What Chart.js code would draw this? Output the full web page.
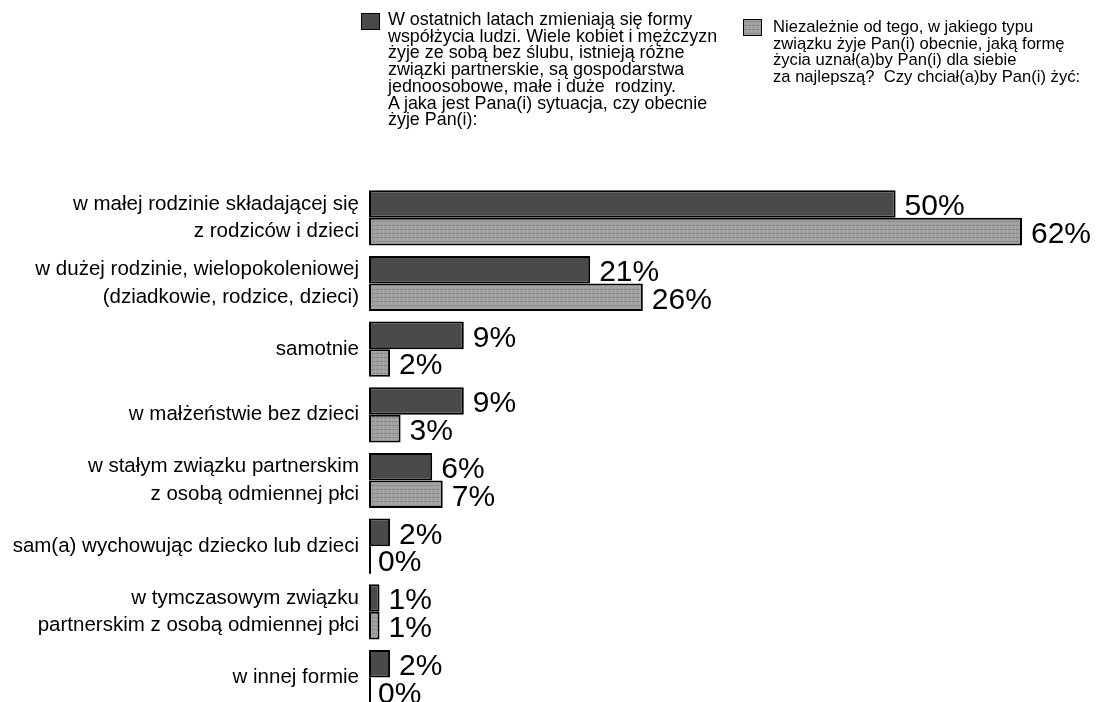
<!DOCTYPE html>
<html>
<head>
<meta charset="utf-8">
<script src="https://cdn.jsdelivr.net/npm/chart.js@4"></script>
<style>
  body { margin: 0; background: #fff; overflow: hidden; font-family: "Liberation Sans", Arial, sans-serif; }
  #wrap { position: relative; width: 1100px; height: 748px; }
  .leg { position: absolute; line-height: 16.7px; color: #000; white-space: pre; }
  .box { position: absolute; width: 17px; height: 15px; border: 1px solid #000; }
</style>
</head>
<body>
<div id="wrap">
  <canvas id="chart" width="1100" height="748"></canvas>
  <div class="box" id="box1" style="left:361px;top:13px;background:#4a4a4a;"></div>
  <div class="leg" id="leg1" style="left:388px;top:11px;font-size:17.9px;"></div>
  <div class="box" id="box2" style="left:743px;top:19px;"></div>
  <div class="leg" id="leg2" style="left:773px;top:19px;font-size:16.6px;"></div>
</div>
<script>
// DATA
const categories = [
	["w małej rodzinie składającej się", "z rodziców i dzieci"],
	["w dużej rodzinie, wielopokoleniowej", "(dziadkowie, rodzice, dzieci)"],
	"samotnie",
	"w małżeństwie bez dzieci",
	["w stałym związku partnerskim", "z osobą odmiennej płci"],
	"sam(a) wychowując dziecko lub dzieci",
	["w tymczasowym związku", "partnerskim z osobą odmiennej płci"],
	"w innej formie"
];
const current_values = [50, 21, 9, 9, 6, 2, 1, 2];
const preferred_values = [62, 26, 2, 3, 7, 0, 1, 0];

const legend_current = "W ostatnich latach zmieniają się formy\nwspółżycia ludzi. Wiele kobiet i mężczyzn\nżyje ze sobą bez ślubu, istnieją różne\nzwiązki partnerskie, są gospodarstwa\njednoosobowe, małe i duże  rodziny.\nA jaka jest Pana(i) sytuacja, czy obecnie\nżyje Pan(i):";
const legend_preferred = "Niezależnie od tego, w jakiego typu\nzwiązku żyje Pan(i) obecnie, jaką formę\nżycia uznał(a)by Pan(i) dla siebie\nza najlepszą?  Czy chciał(a)by Pan(i) żyć:";

document.getElementById("leg1").textContent = legend_current;
document.getElementById("leg2").textContent = legend_preferred;

// DOTTED PATTERN FOR SECOND SERIES
function patternCanvas(){
	const c = document.createElement("canvas");
	c.width = 4; c.height = 4;
	const p = c.getContext("2d");
	p.fillStyle = "#a3a3a3";
	p.fillRect(0, 0, 4, 4);
	p.fillStyle = "#858585";
	p.fillRect(0, 1, 3, 1);
	return c;
}
const pat = patternCanvas();
const dotted = document.createElement("canvas").getContext("2d").createPattern(pat, "repeat");
document.getElementById("box2").style.background = "url(" + pat.toDataURL() + ")";

// VALUE LABELS + ZERO BAR LINES
const valueLabels = {
	id: "valueLabels",
	afterDatasetsDraw(chart){
		const ctx = chart.ctx;
		ctx.save();
		ctx.font = "30px 'Liberation Sans', Arial, sans-serif";
		ctx.fillStyle = "#000";
		ctx.textBaseline = "middle";
		ctx.textAlign = "left";
		chart.data.datasets.forEach((ds, i) => {
			const meta = chart.getDatasetMeta(i);
			meta.data.forEach((bar, j) => {
				const v = ds.data[j];
				if(v === 0){
					ctx.strokeStyle = "#000";
					ctx.lineWidth = 2;
					ctx.beginPath();
					ctx.moveTo(bar.base + 1, bar.y - bar.height / 2);
					ctx.lineTo(bar.base + 1, bar.y + bar.height / 2);
					ctx.stroke();
				}
				ctx.fillText(v + "%", bar.x + 9, bar.y + 3);
			});
		});
		ctx.restore();
	}
};

const ctx = document.getElementById("chart").getContext("2d");
new Chart(ctx, {
	type: "bar",
	data: {
		labels: categories,
		datasets: [{
			label: "current",
			data: current_values,
			backgroundColor: "#4a4a4a",
			borderColor: "#000",
			borderWidth: 2,
			borderSkipped: false
		},{
			label: "preferred",
			data: preferred_values,
			backgroundColor: dotted,
			borderColor: "#000",
			borderWidth: 2,
			borderSkipped: false
		}]
	},
	options: {
		indexAxis: "y",
		responsive: false,
		animation: false,
		categoryPercentage: 0.84,
		barPercentage: 1.0,
		layout: { padding: { top: 185, right: 78, bottom: 10, left: 0 } },
		plugins: { legend: { display: false }, tooltip: { enabled: false } },
		scales: {
			x: { display: false, min: 0, max: 62 },
			y: {
				afterFit(scale){ scale.width = 369; },
				grid: { display: false, drawTicks: false },
				border: { display: false },
				ticks: {
					color: "#000",
					padding: 10,
					font: { family: "'Liberation Sans', Arial, sans-serif", size: 20.5, lineHeight: 1.35 }
				}
			}
		}
	},
	plugins: [valueLabels]
});
</script>
</body>
</html>
